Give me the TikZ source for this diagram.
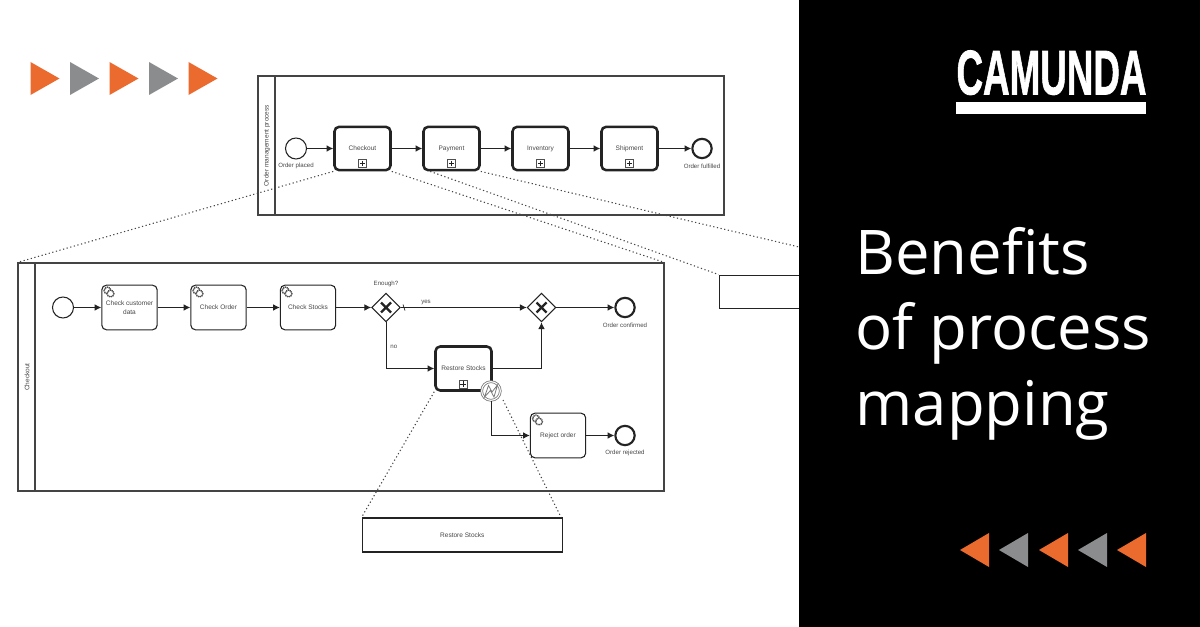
\documentclass[tikz,border=0pt]{standalone}
\usepackage{fontspec}
\usepackage{graphicx}
\setmainfont{Liberation Sans}
\newfontfamily\panelfont{Open Sans}
\newfontfamily\logofont[BoldFeatures={FakeBold=1.4}]{Liberation Sans}
\usetikzlibrary{arrows.meta,shapes.geometric}

\definecolor{camorange}{RGB}{235,106,46}
\definecolor{camgrey}{RGB}{138,140,142}
\definecolor{inktext}{RGB}{70,70,70}
\definecolor{inkline}{RGB}{35,35,35}

\tikzset{every picture/.style={line width=0.75pt}}
\tikzset{
  pool/.style={draw=inkline!85,line width=0.85pt,inner sep=0pt},
  lanetext/.style={rotate=90,text=inktext,font=\fontsize{4.9}{6}\selectfont},
  subproc/.style={draw=inkline,fill=white,rounded corners=3.5pt,line width=1.9pt,inner sep=0pt,text=inktext,font=\fontsize{4.9}{6.4}\selectfont,align=center},
  tasknode/.style={draw=inkline,fill=white,rounded corners=3.5pt,line width=0.8pt,inner sep=0pt,text=inktext,font=\fontsize{4.9}{6.4}\selectfont,align=center},
  startev/.style={circle,draw=inkline,fill=white,line width=0.8pt,inner sep=0pt,minimum size=15.75pt},
  endev/.style={circle,draw=inkline,fill=white,line width=1.6pt,inner sep=0pt,minimum size=14.5pt},
  gatew/.style={diamond,draw=inkline,fill=white,line width=0.8pt,inner sep=0pt,minimum size=21.5pt},
  boundev/.style={circle,draw=inkline!60,fill=white,double=white,double distance=0.8pt,line width=0.6pt,inner sep=0pt,minimum size=14pt},
  flow/.style={draw=inkline,line width=0.7pt,-{Latex[length=5pt,width=5pt]}},
  zoomline/.style={draw=inkline!85,line width=0.8pt,dash pattern={on 0.9pt off 1.9pt}},
  evlabel/.style={text=inktext,font=\fontsize{4.6}{6}\selectfont,inner sep=0pt},
  marker/.style={draw=inkline!80,fill=white,line width=0.5pt,inner sep=0pt,minimum size=6pt},
  headline/.style={anchor=base west,text=white,inner sep=0pt,font=\panelfont\fontsize{46.2}{50}\selectfont}
}
\newcommand{\plusmark}[2]{%
  \node[marker] (#2) at (#1) {};
  \draw[line width=0.55pt,inkline] ([xshift=-1.9pt]#2.center) -- ([xshift=1.9pt]#2.center) ([yshift=-1.9pt]#2.center) -- ([yshift=1.9pt]#2.center);
}
\newcommand{\gearmark}[1]{%
  \draw[inkline!80,fill=white,line width=1.1pt,dash pattern={on 0.9pt off 0.5pt}] (#1) ++(-1.5,-1.5) circle (3.4);
  \draw[inkline!80,fill=white,line width=1.1pt,dash pattern={on 0.9pt off 0.5pt}] (#1) ++(1.5,1.5) circle (3.4);
}

\begin{document}
\begin{tikzpicture}[x=0.75pt,y=0.75pt,yscale=-1,xscale=1]
\useasboundingbox (0,0) rectangle (1200,627);

%Order management pool
\node[pool,minimum width=349.5pt,minimum height=104.25pt] (poolorder) at (491,145.5) {};
\draw[inkline!85,line width=0.85pt] (275,76) -- (275,215);
\node[lanetext] (laneorder) at (267,145.5) {Order management process};

\node[startev] (placed) at (296,148.5) {};
\node[evlabel] (placedtxt) at (296,166) {Order placed};
\node[subproc,minimum width=42pt,minimum height=32.5pt] (checkout) at (362.5,148.5) {Checkout};
\node[subproc,minimum width=42pt,minimum height=32.5pt] (payment) at (451.5,148.5) {Payment};
\node[subproc,minimum width=42pt,minimum height=32.5pt] (inventory) at (540.5,148.5) {Inventory};
\node[subproc,minimum width=42pt,minimum height=32.5pt] (shipment) at (629.5,148.5) {Shipment};
\node[endev] (fulfilled) at (702,148.5) {};
\node[evlabel] (fulfilledtxt) at (702,166) {Order fulfilled};
\plusmark{362.5,163.5}{plusa}
\plusmark{451.5,163.5}{plusb}
\plusmark{540.5,163.5}{plusc}
\plusmark{629.5,163.5}{plusd}

\draw[flow] (placed) -- (checkout);
\draw[flow] (checkout) -- (payment);
\draw[flow] (payment) -- (inventory);
\draw[flow] (inventory) -- (shipment);
\draw[flow] (shipment) -- (fulfilled);

%Checkout pool
\node[pool,minimum width=484.5pt,minimum height=171pt] (poolcheck) at (341,377) {};
\draw[inkline!85,line width=0.85pt] (35,263) -- (35,491);
\node[lanetext] (lanecheck) at (27,377) {Checkout};

\node[startev] (begin) at (63,307.5) {};
\node[tasknode,minimum width=41.5pt,minimum height=33.5pt] (customer) at (129.5,307.5) {Check customer\\data};
\node[tasknode,minimum width=41.5pt,minimum height=33.5pt] (order) at (218.5,307.5) {Check Order};
\node[tasknode,minimum width=41.5pt,minimum height=33.5pt] (stocks) at (308,307.5) {Check Stocks};
\node[gatew] (enough) at (386,307.5) {};
\node[evlabel] (enoughtxt) at (386,284) {Enough?};
\node[gatew] (merge) at (541.5,307.5) {};
\node[endev] (confirmed) at (625,307.5) {};
\node[evlabel] (confirmedtxt) at (625,325) {Order confirmed};
\node[subproc,minimum width=42pt,minimum height=33pt] (restore) at (463.5,368.5) {Restore Stocks};
\plusmark{463,384}{pluse}
\node[boundev] (signal) at (491,391) {};
\node[tasknode,minimum width=41.5pt,minimum height=33.5pt] (reject) at (558,435.5) {Reject order};
\node[endev] (rejected) at (625,435.5) {};
\node[evlabel] (rejectedtxt) at (625,453) {Order rejected};

\gearmark{109,292}
\gearmark{198,292}
\gearmark{287,292}
\gearmark{537.5,420}

%gateway crosses
\draw[inkline,line width=1.6pt] (381,302.5) -- (391,312.5) (391,302.5) -- (381,312.5);
\draw[inkline,line width=1.6pt] (536.5,302.5) -- (546.5,312.5) (546.5,302.5) -- (536.5,312.5);
%error bolt
\draw[inkline!60,line width=0.6pt] (484.5,397) -- (488.5,385.5) -- (492,392) -- (497.5,385) -- (494,397) -- (490.5,390.5) -- cycle;

\draw[flow] (begin) -- (customer);
\draw[flow] (customer) -- (order);
\draw[flow] (order) -- (stocks);
\draw[flow] (stocks) -- (enough);
\draw[flow] (enough) -- node[evlabel,above=2pt,pos=0.2] (yestxt) {yes} (merge);
\draw[flow] (merge) -- (confirmed);
\draw[flow] (enough) |- node[evlabel,pos=0.27,right=3pt] (notxt) {no} (restore);
\draw[flow] (restore) -| (merge);
\draw[flow] (signal) |- (reject);
\draw[flow] (reject) -- (rejected);
\draw[inkline,line width=0.5pt] (403,304.5) -- (405,310.5);

%Collapsed boxes
\node[draw=inkline,fill=white,line width=0.8pt,minimum width=150.4pt,minimum height=25.5pt,inner sep=0pt,text=inktext,font=\fontsize{4.9}{6}\selectfont] (restorebox) at (462.3,535) {Restore Stocks};
\node[draw=inkline,fill=white,line width=0.7pt,minimum width=75pt,minimum height=24.75pt,inner sep=0pt] (subbox) at (769,291.5) {};

%Zoom lines
\coordinate (panelhit) at (799,247);
\coordinate (signalfoot) at (503,400);
\draw[zoomline] (checkout.south west) -- (poolcheck.north west);
\draw[zoomline] (checkout.south east) -- (poolcheck.north east);
\draw[zoomline] ([xshift=6pt]payment.south west) -- (subbox.north west);
\draw[zoomline] (payment.south east) -- (panelhit);
\draw[zoomline] (restore.south west) -- (restorebox.north west);
\draw[zoomline] (signalfoot) -- ([xshift=-1.5pt]restorebox.north east);

%Black panel
\fill[black] (799,0) rectangle (1200,627);
\node[anchor=south west,inner sep=0pt,text=white,font=\logofont\bfseries] (logo) at (956,95.5) {\resizebox{142.5pt}{33pt}{CAMUNDA}};
\fill[white] (956,102) rectangle (1146,114);
\node[headline] (lineone) at (855,274.5) {Benefits};
\node[headline] (linetwo) at (855,349.5) {of process};
\node[headline] (linethree) at (855,425) {mapping};

%Triangles
\foreach \tx/\tc in {30.5/camorange,70/camgrey,109.5/camorange,149/camgrey,188.5/camorange}
  \fill[\tc] (\tx,62) -- (\tx+29,78.5) -- (\tx,95) -- cycle;
\foreach \tx/\tc in {989/camorange,1028/camgrey,1068/camorange,1107/camgrey,1146/camorange}
  \fill[\tc] (\tx,533) -- (\tx-29,550) -- (\tx,567) -- cycle;

\end{tikzpicture}
\end{document}
